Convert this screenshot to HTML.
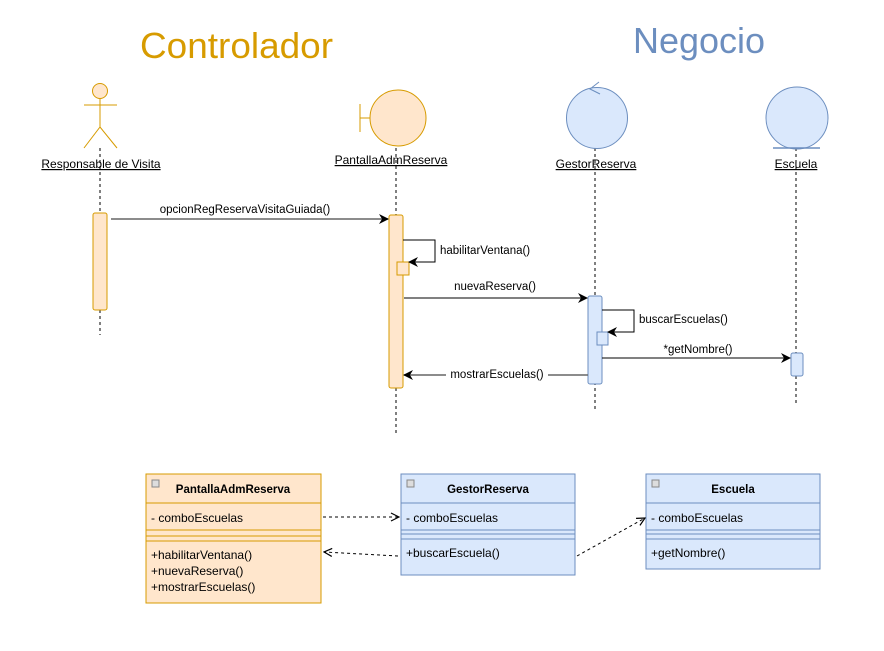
<!DOCTYPE html>
<html><head><meta charset="utf-8"><style>
body{margin:0;background:#fff}
svg text{font-family:"Liberation Sans",Arial,sans-serif}
</style></head><body>
<svg width="884" height="646" viewBox="0 0 884 646" xmlns="http://www.w3.org/2000/svg">
<defs>
<marker id="a" markerWidth="10" markerHeight="10" refX="9" refY="5" orient="auto" markerUnits="userSpaceOnUse"><path d="M0,0 L10,5 L0,10 L3,5 Z" fill="#000"/></marker>
<marker id="o" markerWidth="10" markerHeight="10" refX="9" refY="5" orient="auto" markerUnits="userSpaceOnUse"><path d="M1,1 L9,5 L1,9" fill="none" stroke="#000" stroke-width="1.2"/></marker>
</defs>
<rect width="884" height="646" fill="#fff"/>
<text x="140" y="58" font-size="36" fill="#d79b00" textLength="193" lengthAdjust="spacingAndGlyphs">Controlador</text>
<text x="633" y="53" font-size="36" fill="#6c8ebf" textLength="132" lengthAdjust="spacingAndGlyphs">Negocio</text>

<!-- actor -->
<g stroke="#d79b00" fill="#ffe6cc" stroke-width="1">
<circle cx="100" cy="91" r="7.5"/>
<line x1="100" y1="99" x2="100" y2="127"/>
<line x1="84" y1="105" x2="117" y2="105"/>
<line x1="100" y1="127" x2="84" y2="148"/>
<line x1="100" y1="127" x2="117" y2="148"/>
</g>
<g stroke="#000" stroke-dasharray="3,3" fill="none">
<line x1="100" y1="148" x2="100" y2="335"/>
<line x1="396" y1="148" x2="396" y2="435"/>
<line x1="595" y1="148" x2="595" y2="410"/>
<line x1="796" y1="148" x2="796" y2="405"/>
</g>
<text x="101" y="168" font-size="12" text-anchor="middle" text-decoration="underline">Responsable de Visita</text>

<!-- boundary -->
<g stroke="#d79b00" fill="#ffe6cc">
<circle cx="398" cy="118" r="28"/>
<line x1="360" y1="104" x2="360" y2="132"/>
<line x1="360" y1="118" x2="370" y2="118"/>
</g>
<text x="391" y="164" font-size="12" text-anchor="middle" text-decoration="underline">PantallaAdmReserva</text>

<!-- control -->
<g stroke="#6c8ebf" fill="#dae8fc">
<circle cx="597" cy="118" r="30.5"/>
<path d="M599,82 L590,89 L600,94" fill="none"/>
</g>
<text x="596" y="168" font-size="12" text-anchor="middle" text-decoration="underline">GestorReserva</text>

<!-- entity -->
<g stroke="#6c8ebf" fill="#dae8fc">
<circle cx="797" cy="118" r="31"/>
<line x1="773" y1="148" x2="820" y2="148" stroke-width="1.5"/>
</g>
<text x="796" y="168" font-size="12" text-anchor="middle" text-decoration="underline">Escuela</text>

<!-- activations -->
<rect x="93" y="213" width="14" height="97" rx="2" fill="#ffe6cc" stroke="#d79b00"/>
<rect x="389" y="215" width="14" height="173" rx="2" fill="#ffe6cc" stroke="#d79b00"/>
<rect x="397" y="262" width="12" height="13" fill="#ffe6cc" stroke="#d79b00"/>
<rect x="588" y="296" width="14" height="88" rx="2" fill="#dae8fc" stroke="#6c8ebf"/>
<rect x="597" y="332" width="11" height="13" fill="#dae8fc" stroke="#6c8ebf"/>
<rect x="791" y="353" width="12" height="23" rx="2" fill="#dae8fc" stroke="#6c8ebf"/>

<!-- messages -->
<line x1="111" y1="219" x2="388" y2="219" stroke="#666" stroke-width="1.5" marker-end="url(#a)"/>
<text x="245" y="213" font-size="11.5" text-anchor="middle">opcionRegReservaVisitaGuiada()</text>
<path d="M403,240 H435 V262 H409" fill="none" stroke="#000" marker-end="url(#a)"/>
<text x="440" y="254" font-size="11.5">habilitarVentana()</text>
<line x1="404" y1="298" x2="587" y2="298" stroke="#000" marker-end="url(#a)"/>
<text x="495" y="290" font-size="11.5" text-anchor="middle">nuevaReserva()</text>
<path d="M602,310 H634 V332 H608" fill="none" stroke="#000" marker-end="url(#a)"/>
<text x="639" y="323" font-size="11.5">buscarEscuelas()</text>
<line x1="602" y1="358" x2="790" y2="358" stroke="#000" marker-end="url(#a)"/>
<text x="698" y="353" font-size="11.5" text-anchor="middle">*getNombre()</text>
<line x1="588" y1="375" x2="404" y2="375" stroke="#666" stroke-width="1.5" marker-end="url(#a)"/>
<rect x="446" y="367" width="102" height="12" fill="#fff"/>
<text x="497" y="378" font-size="11.5" text-anchor="middle">mostrarEscuelas()</text>

<!-- classes -->
<g font-size="12">
<rect x="146" y="474" width="175" height="129" fill="#ffe6cc" stroke="#d79b00"/>
<line x1="146" y1="503" x2="321" y2="503" stroke="#d79b00"/>
<line x1="146" y1="530" x2="321" y2="530" stroke="#d79b00"/>
<line x1="146" y1="536" x2="321" y2="536" stroke="#d79b00"/>
<line x1="146" y1="541" x2="321" y2="541" stroke="#d79b00"/>
<rect x="152" y="480" width="7" height="7" fill="#ddd" stroke="#888"/>
<text x="233" y="493" font-weight="bold" text-anchor="middle" font-size="11.5">PantallaAdmReserva</text>
<text x="151" y="522">- comboEscuelas</text>
<text x="151" y="559">+habilitarVentana()</text>
<text x="151" y="575">+nuevaReserva()</text>
<text x="151" y="591">+mostrarEscuelas()</text>

<rect x="401" y="474" width="174" height="101" fill="#dae8fc" stroke="#6c8ebf"/>
<line x1="401" y1="503" x2="575" y2="503" stroke="#6c8ebf"/>
<line x1="401" y1="530" x2="575" y2="530" stroke="#6c8ebf"/>
<line x1="401" y1="534" x2="575" y2="534" stroke="#6c8ebf"/>
<line x1="401" y1="539" x2="575" y2="539" stroke="#6c8ebf"/>
<rect x="407" y="480" width="7" height="7" fill="#ddd" stroke="#888"/>
<text x="488" y="493" font-weight="bold" text-anchor="middle" font-size="11.5">GestorReserva</text>
<text x="406" y="522">- comboEscuelas</text>
<text x="406" y="557">+buscarEscuela()</text>

<rect x="646" y="474" width="174" height="95" fill="#dae8fc" stroke="#6c8ebf"/>
<line x1="646" y1="503" x2="820" y2="503" stroke="#6c8ebf"/>
<line x1="646" y1="530" x2="820" y2="530" stroke="#6c8ebf"/>
<line x1="646" y1="534" x2="820" y2="534" stroke="#6c8ebf"/>
<line x1="646" y1="539" x2="820" y2="539" stroke="#6c8ebf"/>
<rect x="652" y="480" width="7" height="7" fill="#ddd" stroke="#888"/>
<text x="733" y="493" font-weight="bold" text-anchor="middle" font-size="11.5">Escuela</text>
<text x="651" y="522">- comboEscuelas</text>
<text x="651" y="557">+getNombre()</text>
</g>
<g stroke="#000" stroke-dasharray="3,3" fill="none">
<line x1="323" y1="517" x2="399" y2="517" marker-end="url(#o)"/>
<line x1="398" y1="556" x2="324" y2="552" marker-end="url(#o)"/>
<line x1="577" y1="556" x2="645" y2="518" marker-end="url(#o)"/>
</g>
</svg>
</body></html>
